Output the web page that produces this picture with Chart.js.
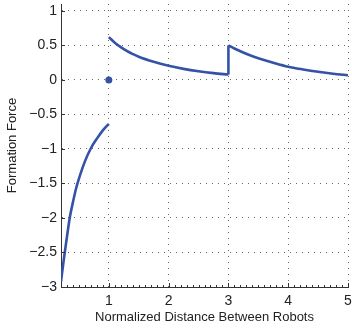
<!DOCTYPE html>
<html>
<head>
<meta charset="utf-8">
<script src="https://cdn.jsdelivr.net/npm/chart.js@4"></script>
<style>
  html, body { margin: 0; padding: 0; background: #fff; }
  #wrap { width: 352px; height: 332px; }
</style>
</head>
<body>
<div id="wrap"><canvas id="forceChart" width="352" height="332"></canvas></div>
<script>
// values
const leftX = [0.2, 0.25, 0.3, 0.35, 0.4, 0.45, 0.5, 0.55, 0.6, 0.7, 0.8, 0.9, 1.0];
const leftY = [-2.92, -2.58, -2.27, -1.98, -1.77, -1.58, -1.43, -1.30, -1.18, -0.99, -0.85, -0.73, -0.635];

const midX = [1.0, 1.1, 1.2, 1.3, 1.4, 1.5, 1.75, 2.0, 2.25, 2.5, 2.75, 3.0];
const midY = [0.62, 0.54, 0.475, 0.42, 0.375, 0.335, 0.262, 0.205, 0.16, 0.125, 0.098, 0.078];

const jumpX = [3.0, 3.0];
const jumpY = [0.078, 0.5];

const rightX = [3.0, 3.1, 3.2, 3.35, 3.5, 3.75, 4.0, 4.25, 4.5, 4.75, 5.0];
const rightY = [0.5, 0.455, 0.415, 0.36, 0.315, 0.25, 0.192, 0.152, 0.118, 0.09, 0.068];

const dotX = [1];
const dotY = [0];

const xTicks = [1, 2, 3, 4, 5];
const yTicks = [-3, -2.5, -2, -1.5, -1, -0.5, 0, 0.5, 1];

const LINE = "#3452a6";
const FONT = "'Liberation Sans', Arial, sans-serif";

const pts = (xs, ys) => xs.map((x, i) => ({ x, y: ys[i] }));

const curve = (xs, ys) => ({
  data: pts(xs, ys),
  borderColor: LINE,
  borderWidth: 2.6,
  pointRadius: 0,
  fill: false,
  cubicInterpolationMode: "monotone",
});

// matlab style inward ticks (minor on x)
const innerTicks = {
  id: "innerTicks",
  afterDraw(chart) {
    const { ctx, chartArea: a, scales: { x, y } } = chart;
    ctx.save();
    ctx.strokeStyle = "#333";
    ctx.lineWidth = 1;
    ctx.beginPath();
    for (let i = 2; i <= 50; i++) {
      const v = i / 10;
      const px = Math.round(x.getPixelForValue(v)) + 0.5;
      const len = i % 10 === 0 ? 4 : 2;
      ctx.moveTo(px, a.bottom);
      ctx.lineTo(px, a.bottom - len);
    }
    yTicks.forEach((v) => {
      const py = Math.round(y.getPixelForValue(v)) + 0.5;
      ctx.moveTo(a.left, py);
      ctx.lineTo(a.left + 4, py);
    });
    ctx.stroke();
    ctx.restore();
  },
};

const minus = (v) => String(v).replace("-", "\u2212");

new Chart(document.getElementById("forceChart"), {
  type: "line",
  data: {
    datasets: [
      curve(leftX, leftY),
      curve(midX, midY),
      { ...curve(jumpX, jumpY), cubicInterpolationMode: "default", tension: 0 },
      curve(rightX, rightY),
      {
        data: pts(dotX, dotY),
        showLine: false,
        pointRadius: 3.5,
        pointBackgroundColor: LINE,
        pointBorderColor: LINE,
        pointBorderWidth: 0,
      },
    ],
  },
  options: {
    responsive: false,
    animation: false,
    layout: { padding: { top: 3, right: 3, left: 0, bottom: 0 } },
    plugins: { legend: { display: false }, tooltip: { enabled: false } },
    scales: {
      x: {
        type: "linear",
        min: 0.2,
        max: 5,
        afterBuildTicks: (s) => { s.ticks = xTicks.map((v) => ({ value: v })); },
        afterFit: (s) => { s.height = 45; s.paddingLeft = 0; s.paddingRight = 0; },
        grid: { color: "rgba(0,0,0,0.6)", lineWidth: 1, drawTicks: false },
        border: { display: true, color: "#333", width: 1, dash: [1, 5] },
        ticks: { color: "#222", font: { family: FONT, size: 14 }, padding: 6, maxRotation: 0, callback: minus },
        title: {
          display: true,
          text: "Normalized Distance Between Robots",
          color: "#222",
          font: { family: FONT, size: 13 },
          padding: { top: 0, bottom: 7 },
        },
      },
      y: {
        type: "linear",
        min: -3,
        max: 1.1,
        afterBuildTicks: (s) => { s.ticks = yTicks.map((v) => ({ value: v })); },
        afterFit: (s) => { s.width = 61; s.paddingTop = 0; s.paddingBottom = 0; },
        grid: { color: "rgba(0,0,0,0.6)", lineWidth: 1, drawTicks: false },
        border: { display: true, color: "#333", width: 1, dash: [1, 5] },
        ticks: { color: "#222", font: { family: FONT, size: 14 }, padding: 4, callback: minus },
        title: {
          display: true,
          text: "Formation Force",
          color: "#222",
          font: { family: FONT, size: 13 },
          padding: { top: 5, bottom: 0 },
        },
      },
    },
  },
  plugins: [innerTicks],
});
</script>
</body>
</html>
